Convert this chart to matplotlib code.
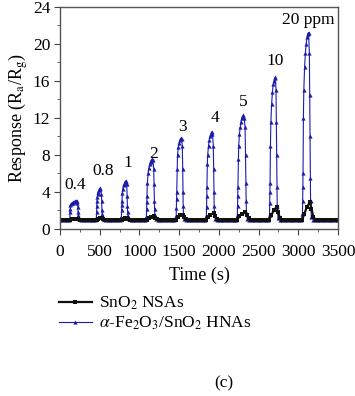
import matplotlib.pyplot as plt
from matplotlib.ticker import MultipleLocator

plt.rcParams['font.family'] = ['Liberation Serif', 'DejaVu Serif']
plt.rcParams['mathtext.fontset'] = 'stix'

# alpha-Fe2O3/SnO2 HNAs response (time in s, response Ra/Rg)
time_hna = [0, 30, 60, 90, 110,
            124, 126, 128, 130, 140, 150, 160, 170, 180, 190, 200, 210, 220, 225, 228, 231, 235, 245,
            270, 300, 330, 360, 390, 420, 445,
            458, 461, 463, 465, 470, 475, 480, 490, 500, 510, 520, 525, 528, 531, 535, 545,
            570, 600, 630, 660, 690, 720, 750,
            773, 776, 778, 780, 785, 790, 800, 810, 820, 830, 840, 845, 848, 851, 855, 865,
            890, 920, 950, 980, 1010, 1040, 1070,
            1088, 1091, 1093, 1095, 1100, 1110, 1120, 1130, 1140, 1150, 1160, 1170, 1180, 1184, 1188, 1191, 1195, 1205,
            1230, 1260, 1290, 1320, 1350, 1380, 1410, 1440,
            1463, 1466, 1468, 1470, 1475, 1480, 1490, 1500, 1510, 1520, 1530, 1540, 1545, 1548, 1551, 1555, 1565,
            1590, 1620, 1650, 1680, 1710, 1740, 1770, 1800, 1830,
            1843, 1846, 1848, 1850, 1855, 1860, 1870, 1880, 1890, 1900, 1910, 1920, 1930, 1935, 1938, 1941, 1945, 1955,
            1980, 2010, 2040, 2070, 2100, 2130, 2160, 2190, 2220,
            2233, 2236, 2238, 2240, 2245, 2250, 2260, 2270, 2280, 2290, 2300, 2310, 2320, 2330, 2336, 2340, 2344, 2348, 2358,
            2385, 2415, 2445, 2475, 2505, 2535, 2565, 2595, 2625,
            2638, 2641, 2643, 2645, 2650, 2655, 2665, 2675, 2685, 2695, 2705, 2712, 2720, 2724, 2728, 2731, 2735, 2745,
            2770, 2800, 2830, 2860, 2890, 2920, 2950, 2980, 3010, 3040,
            3053, 3056, 3058, 3060, 3065, 3070, 3080, 3090, 3100, 3110, 3120, 3130, 3140, 3144, 3148, 3151, 3155, 3165,
            3190, 3220, 3250, 3280, 3310, 3340, 3370, 3400, 3430, 3460, 3490]
resp_hna = [1.0, 1.0, 1.0, 1.0, 1.0,
            1.2, 1.8, 2.2, 2.6, 2.7, 2.8, 2.8, 2.9, 2.9, 3.0, 3.0, 3.0, 2.8, 2.4, 1.8, 1.5, 1.2, 1.05,
            1.0, 1.0, 1.0, 1.0, 1.0, 1.0, 1.0,
            1.2, 1.8, 2.5, 3.0, 3.4, 3.8, 4.0, 4.2, 4.4, 4.3, 3.8, 3.0, 2.0, 1.6, 1.3, 1.05,
            1.0, 1.0, 1.0, 1.0, 1.0, 1.0, 1.0,
            1.3, 2.0, 2.6, 3.0, 3.9, 4.3, 4.7, 4.9, 5.1, 5.2, 4.8, 3.6, 2.5, 1.8, 1.4, 1.1,
            1.0, 1.0, 1.0, 1.0, 1.0, 1.0, 1.0,
            1.3, 2.2, 2.9, 3.5, 5.0, 6.0, 6.6, 7.0, 7.2, 7.4, 7.5, 7.4, 6.5, 4.8, 3.0, 2.1, 1.5, 1.1,
            1.0, 1.0, 1.0, 1.0, 1.0, 1.0, 1.0, 1.0,
            1.4, 2.3, 3.2, 4.0, 6.5, 8.0, 8.8, 9.3, 9.6, 9.8, 9.7, 9.0, 6.5, 4.0, 2.5, 1.6, 1.1,
            1.0, 1.0, 1.0, 1.0, 1.0, 1.0, 1.0, 1.0, 1.0,
            1.4, 2.4, 3.5, 4.5, 7.0, 8.0, 9.0, 9.6, 10.0, 10.3, 10.5, 10.3, 9.0, 6.5, 4.0, 2.5, 1.6, 1.1,
            1.0, 1.0, 1.0, 1.0, 1.0, 1.0, 1.0, 1.0, 1.0,
            1.4, 2.5, 3.5, 4.5, 7.5, 9.0, 10.3, 11.0, 11.6, 12.0, 12.2, 12.3, 12.0, 11.0, 8.0, 5.0, 3.0, 1.8, 1.1,
            1.0, 1.0, 1.0, 1.0, 1.0, 1.0, 1.0, 1.0, 1.0,
            1.5, 2.8, 4.0, 5.0, 9.0, 11.5, 13.5, 14.8, 15.6, 16.0, 16.3, 16.4, 15.0, 11.5, 8.0, 4.5, 2.5, 1.2,
            1.0, 1.0, 1.0, 1.0, 1.0, 1.0, 1.0, 1.0, 1.0, 1.0,
            1.6, 3.0, 4.5, 6.0, 12.0, 15.0, 17.5, 19.0, 20.0, 20.7, 21.1, 21.2, 19.0, 14.5, 10.0, 5.5, 3.0, 1.3,
            1.0, 1.0, 1.0, 1.0, 1.0, 1.0, 1.0, 1.0, 1.0, 1.0, 1.0]

# SnO2 NSAs response
time_nsa = [0, 30, 60, 90, 120, 150, 180, 210, 230, 250, 280,
            310, 340, 370, 400, 430, 460, 480, 500, 530, 545, 570, 600,
            630, 660, 690, 720, 750, 780, 800, 820, 845, 860, 885, 915,
            945, 975, 1005, 1035, 1065, 1095, 1120, 1140, 1180, 1195, 1220, 1250,
            1280, 1310, 1340, 1370, 1400, 1430, 1460, 1485, 1515, 1550, 1565, 1590, 1620,
            1650, 1680, 1710, 1740, 1770, 1800, 1840, 1865, 1895, 1935, 1950, 1975, 2005,
            2035, 2065, 2095, 2125, 2155, 2185, 2230, 2255, 2290, 2335, 2355, 2380, 2410,
            2440, 2470, 2500, 2530, 2560, 2590, 2635, 2660, 2695, 2730, 2745, 2770, 2800,
            2830, 2860, 2890, 2920, 2950, 2980, 3010, 3050, 3075, 3110, 3150, 3165, 3190, 3220,
            3250, 3280, 3310, 3340, 3370, 3400, 3430, 3460, 3490]
resp_nsa = [0.95, 0.95, 0.95, 0.95, 0.95, 1.05, 1.1, 1.1, 1.05, 1.0, 0.95,
            0.95, 0.95, 0.95, 0.95, 0.95, 0.95, 1.05, 1.15, 1.15, 1.1, 1.0, 0.95,
            0.95, 0.95, 0.95, 0.95, 0.95, 0.95, 1.1, 1.2, 1.2, 1.1, 1.0, 0.95,
            0.95, 0.95, 0.95, 0.95, 0.95, 0.95, 1.15, 1.3, 1.35, 1.2, 1.05, 0.95,
            0.95, 0.95, 0.95, 0.95, 0.95, 0.95, 1.0, 1.25, 1.45, 1.5, 1.3, 1.1, 0.95,
            0.95, 0.95, 0.95, 0.95, 0.95, 0.95, 1.0, 1.3, 1.55, 1.7, 1.4, 1.1, 0.95,
            0.95, 0.95, 0.95, 0.95, 0.95, 0.95, 1.0, 1.35, 1.65, 1.85, 1.5, 1.15, 0.95,
            0.95, 0.95, 0.95, 0.95, 0.95, 0.95, 1.0, 1.5, 2.0, 2.4, 1.8, 1.2, 0.95,
            0.95, 0.95, 0.95, 0.95, 0.95, 0.95, 0.95, 1.0, 1.6, 2.4, 2.9, 2.2, 1.3, 1.0,
            0.95, 0.95, 0.95, 0.95, 0.95, 0.95, 0.95, 0.95, 0.95]

conc_labels = ['0.4', '0.8', '1', '2', '3', '4', '5', '10', '20 ppm']
label_t = [189, 541, 856, 1183, 1545, 1951, 2304, 2707, 3122]
label_y = [4.75, 6.2, 7.1, 8.1, 11.0, 12.0, 13.7, 18.1, 22.6]

fig = plt.figure(figsize=(3.55, 3.96), dpi=100)
ax = fig.add_axes([0.169, 0.422, 0.783, 0.561])

ax.plot(time_hna, resp_hna, color='#1c1caa', lw=0.8, marker='^',
        ms=3, mew=0, label=r'$\alpha$-Fe$_2$O$_3$/SnO$_2$ HNAs')
ax.plot(time_nsa, resp_nsa, color='#111111', lw=1.6, marker='s',
        ms=3, mew=0, label='SnO$_2$ NSAs')

for txt, t, y in zip(conc_labels, label_t, label_y):
    ax.text(t, y, txt, ha='center', va='center', fontsize=12.5)

ax.set_xlim(0, 3500)
ax.set_ylim(0, 24)
ax.xaxis.set_major_locator(MultipleLocator(500))
ax.xaxis.set_minor_locator(MultipleLocator(250))
ax.yaxis.set_major_locator(MultipleLocator(4))
ax.yaxis.set_minor_locator(MultipleLocator(2))
ax.tick_params(which='both', direction='out', top=False, right=False,
               labelsize=12.5, color='#444444')
ax.tick_params(which='major', length=4)
ax.tick_params(which='minor', length=2.5)
ax.tick_params(axis='x', pad=7)
ax.tick_params(axis='y', pad=3)
for s in ax.spines.values():
    s.set_color('#555555')
    s.set_linewidth(1.0)

ax.set_xlabel('Time (s)', fontsize=13, labelpad=5)
ax.set_ylabel(r'Response (R$_\mathrm{a}$/R$_\mathrm{g}$)', fontsize=13, labelpad=2)

handles, labels = ax.get_legend_handles_labels()
fig.legend(handles[::-1], labels[::-1], loc='upper left',
           bbox_to_anchor=(0.165, 0.255), frameon=False, fontsize=12.5,
           handlelength=1.9, handletextpad=0.45, labelspacing=0.15,
           borderaxespad=0, borderpad=0)

fig.text(0.63, 1 - 383 / 396, '(c)', ha='center', va='center', fontsize=12.5)

fig.savefig('out.png', dpi=100)
